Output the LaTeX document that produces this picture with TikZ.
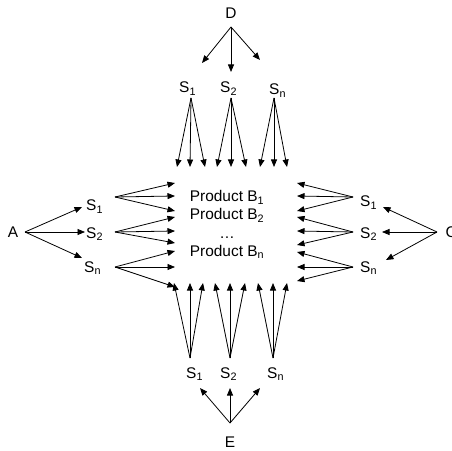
\documentclass[tikz,border=0pt]{standalone}
\usepackage{fontspec}
\setmainfont{Liberation Sans}
\usetikzlibrary{arrows.meta}
\newcommand{\sub}[1]{\textsubscript{#1}}
\tikzset{
  lbl/.style={inner sep=0pt, font=\fontsize{15.5}{18}\selectfont},
  arr/.style={-{Triangle[length=7.5bp,width=6bp]}, line width=0.8bp, black},
}
\begin{document}
\begin{tikzpicture}[x=1bp,y=-1bp]
\useasboundingbox (0,0) rectangle (452,451);

% central product list
\node[lbl, anchor=base] (prod) at (227,202) {Product B\sub{1}};
\node[lbl, anchor=base] (prod2) at (227,220) {Product B\sub{2}};
\node[lbl, anchor=base] (dots) at (227,238) {\ldots};
\node[lbl, anchor=base] (prodn) at (227,256) {Product B\sub{n}};

% suppliers' sources
\node[lbl, anchor=base] (D) at (231,19) {D};
\node[lbl, anchor=base] (E) at (230,447) {E};
\node[lbl, anchor=base] (A) at (13,237) {A};
\node[lbl, anchor=base west] (C) at (445.5,237) {C};

% top suppliers
\node[lbl, anchor=base west] (t1) at (179,93) {S\sub{1}};
\node[lbl, anchor=base west] (t2) at (220,93) {S\sub{2}};
\node[lbl, anchor=base west] (tn) at (269,95) {S\sub{n}};
% bottom suppliers
\node[lbl, anchor=base west] (b1) at (186,378) {S\sub{1}};
\node[lbl, anchor=base west] (b2) at (220,378) {S\sub{2}};
\node[lbl, anchor=base west] (bn) at (267,378) {S\sub{n}};
% left suppliers
\node[lbl, anchor=base west] (l1) at (86,211) {S\sub{1}};
\node[lbl, anchor=base west] (l2) at (86,238) {S\sub{2}};
\node[lbl, anchor=base west] (ln) at (84,272) {S\sub{n}};
% right suppliers
\node[lbl, anchor=base west] (r1) at (360,207) {S\sub{1}};
\node[lbl, anchor=base west] (r2) at (360,238) {S\sub{2}};
\node[lbl, anchor=base west] (rn) at (360,272) {S\sub{n}};

% fan-out points of each label
\coordinate (D-o) at (231,27);
\coordinate (E-o) at (230,423);
\coordinate (A-o) at (25,232);
\coordinate (C-o) at (437,232);
\coordinate (t1-o) at (191,98);
\coordinate (t2-o) at (231,98);
\coordinate (tn-o) at (274,98);
\coordinate (b1-o) at (190,358);
\coordinate (b2-o) at (230,358);
\coordinate (bn-o) at (273,358);
\coordinate (l1-o) at (115,197);
\coordinate (l2-o) at (115,232);
\coordinate (ln-o) at (115,267);
\coordinate (r1-o) at (353,197);
\coordinate (r2-o) at (353,232);
\coordinate (rn-o) at (353,267);

% arrows from the sources to the suppliers
\draw[arr] (D-o) -- (202,63);
\draw[arr] (D-o) -- (231,72);
\draw[arr] (D-o) -- (260,60);
\draw[arr] (E-o) -- (200,388);
\draw[arr] (E-o) -- (230,388);
\draw[arr] (E-o) -- (260,388);
\draw[arr] (A-o) -- (82,207);
\draw[arr] (A-o) -- (85,232);
\draw[arr] (A-o) -- (82,258);
\draw[arr] (C-o) -- (383,207);
\draw[arr] (C-o) -- (382,232);
\draw[arr] (C-o) -- (386,260);

% arrows from the suppliers to the products
\foreach \s/\a/\b/\c in {t1/177/190/205, t2/217/231/246, tn/260/274/287}{
  \draw[arr] (\s-o) -- (\a,167);
  \draw[arr] (\s-o) -- (\b,167);
  \draw[arr] (\s-o) -- (\c,167);
}
\foreach \s/\a/\b/\c in {b1/174/190/203, b2/215/230/245, bn/258/273/287}{
  \draw[arr] (\s-o) -- (\a,283);
  \draw[arr] (\s-o) -- (\b,283);
  \draw[arr] (\s-o) -- (\c,283);
}
\foreach \s/\a/\b/\c in {l1/183/196/211, l2/217/231/243, ln/251/267/287}{
  \draw[arr] (\s-o) -- (175,\a);
  \draw[arr] (\s-o) -- (175,\b);
  \draw[arr] (\s-o) -- (175,\c);
}
\foreach \s/\a/\b/\c in {r1/183/196/211, r2/217/231/245, rn/252/267/281}{
  \draw[arr] (\s-o) -- (297,\a);
  \draw[arr] (\s-o) -- (297,\b);
  \draw[arr] (\s-o) -- (297,\c);
}
\end{tikzpicture}
\end{document}
